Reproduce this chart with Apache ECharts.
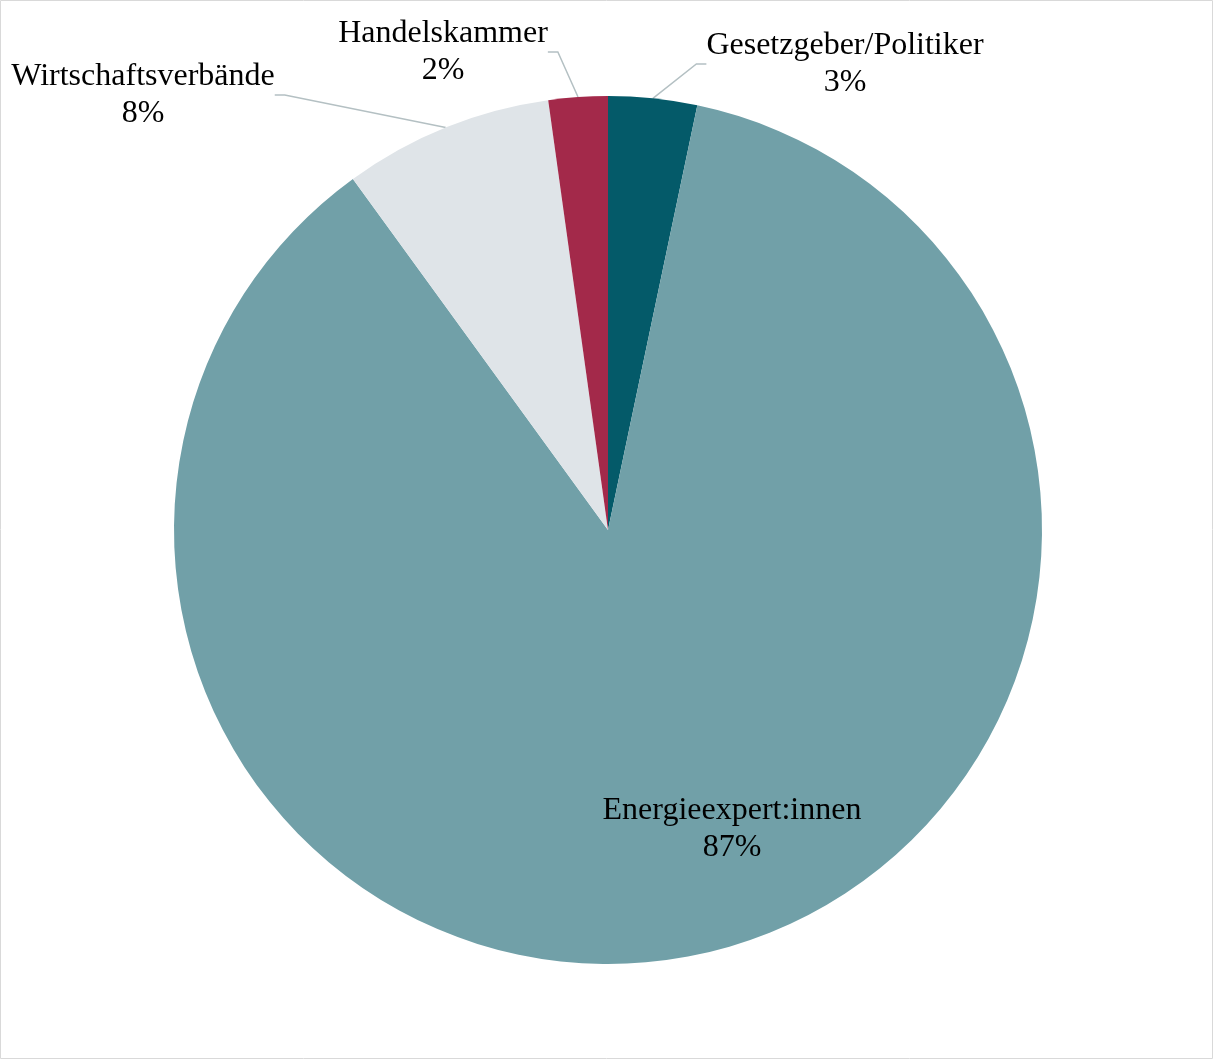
<!DOCTYPE html>
<html>
<head>
<meta charset="utf-8">
<script src="https://cdn.jsdelivr.net/npm/echarts@6/dist/echarts.min.js"></script>
<style>
	html, body { margin: 0; padding: 0; background: #fff; }
	#chart { width: 1213px; height: 1059px; }
</style>
</head>
<body>
<div id="chart"></div>
<script>
// Anteile (im Uhrzeigersinn ab 12 Uhr)
var names = ['Gesetzgeber/Politiker', 'Energieexpert:innen', 'Wirtschaftsverbände', 'Handelskammer'];
var values = [3.3, 86.7, 7.8, 2.2];
var colors = ['#045a69', '#71a0a8', '#dfe4e8', '#a3294a'];

// Label-Positionen (Mitte des Textblocks)
var labelPos = [[845, 64], [732, 829], [143, 95], [443, 52]];

var pieData = names.map(function (n, i) {
	var item = { name: n, value: values[i], itemStyle: { color: colors[i] } };
	if (i === 1) {
		item.labelLine = { show: false };
	}
	return item;
});

var myChart = echarts.init(document.getElementById('chart'));
myChart.setOption({
	animation: false,
	graphic: [{
		type: 'rect',
		shape: { x: 0.5, y: 0.5, width: 1212, height: 1058 },
		style: { fill: 'none', stroke: '#d9d9d9', lineWidth: 1 },
		silent: true
	}],
	series: [{
		type: 'pie',
		center: [608, 530],
		radius: 434,
		startAngle: 90,
		clockwise: true,
		data: pieData,
		label: {
			show: true,
			fontFamily: 'Liberation Serif, Times New Roman, serif',
			fontSize: 32,
			lineHeight: 37,
			color: '#000',
			align: 'center',
			formatter: function (p) {
				return p.name + '\n' + Math.round(p.percent) + '%';
			}
		},
		labelLine: {
			show: true,
			length: 20,
			length2: 10,
			lineStyle: { color: '#b4c0c3', width: 1.5 }
		},
		labelLayout: function (p) {
			var pos = labelPos[p.dataIndex];
			return { x: pos[0], y: pos[1], align: 'center', verticalAlign: 'middle' };
		}
	}]
});
</script>
</body>
</html>
